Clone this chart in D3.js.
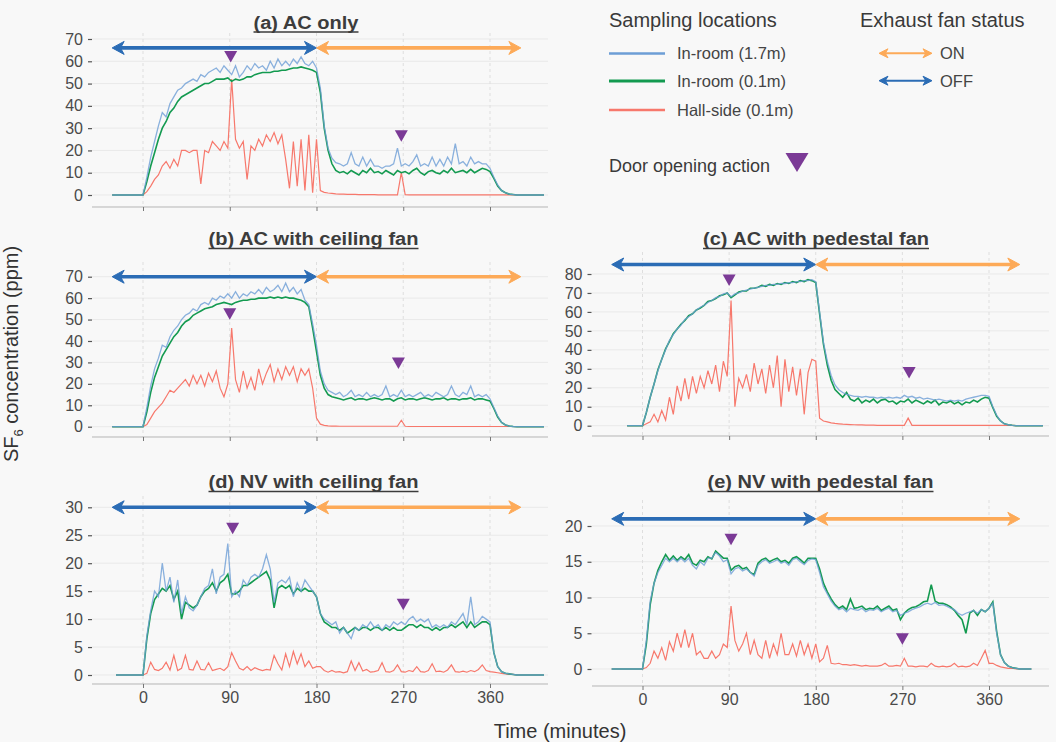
<!DOCTYPE html>
<html lang="en">
<head>
<meta charset="UTF-8">
<title>SF6 concentration</title>
<style>
  body { margin: 0; background: #f8f8f8; }
  svg { display: block; font-family: "Liberation Sans", Arial, sans-serif; }
</style>
</head>
<body>
<script src="https://cdn.jsdelivr.net/npm/d3@7"></script>
<script>
// samples every 4 minutes, first one at -32 min
var sampleStart = -32, sampleStep = 4;

// (a) AC only
var acOnly17 = [
  0,0,0,0,0,0,0,0,0,8,
  17,24,31,37,35,41,44,47,48,50,
  51,52,51,54,53,55,56,57,55,58,
  56,54,58,53,55,58,56,59,57,58,
  56,60,57,61,58,60,58,61,59,62,
  59,58,60,57,48,31,21,16.5,14.5,14,
  13,14,19,14,13,17,13,16,13,13,
  12,13,13,14,21,13,14,13,15,18,
  13,14,13,17,13,16,13,17,14,23,
  14,15,13,17,14,15,14,14,12,8,
  4.5,2,1,0.4,0.2,0,0,0,0,0,
  0,0,0];
var acOnly01 = [
  0,0,0,0,0,0,0,0,0,6,
  13,19,25,30,33,37,39,42,44,45,
  46,47,48,49,50,50,51,52,52,52,
  52.5,51,52,51.5,52,53,53,54,54.5,55,
  55,55,55.5,55.5,56,56,56.5,57,57,57.5,
  57,56.5,56,55,46,30,20,14,11,10,
  10.5,9.5,11,10,9,11,10,12,10,10.5,
  9.5,11,10,9,11,10,10.5,9.5,11,12,
  10,9,10.5,11,10,9.5,11,10,12,10,
  10.5,11,10,11.5,10,11,12,11.5,10.5,7.5,
  4,2,1,0.4,0.2,0,0,0,0,0,
  0,0,0];
var acOnlyHall = [
  0,0,0,0,0,0,0,0,0,1.5,
  4,7,9,13,15,12,16,13,20,20,
  19,20,20,5,20,19,24,22,20,24,
  21,52,25,21,24,7,22,20,25,22,
  27,24,28,23,27,16,3,24,4,25,
  2,27,1,25,2,1.2,0.9,0.7,0.5,0.4,
  0.4,0.3,0.3,0.3,0.2,0.2,0.2,0.2,0.2,0.1,
  0.1,0.1,0.1,0.1,0.1,10,0.2,0.1,0.1,0.1,
  0.1,0.1,0.1,0.1,0.1,0.1,0.1,0.1,0.1,0.1,
  0.1,0.1,0.1,0.1,0.1,0.1,0.1,0.1,0.1,0.1,
  0.1,0.1,0.1,0.1,0.1,0,0,0,0,0,
  0,0,0];
var doorsA = [{t: 91, v: 62}, {t: 268, v: 26.5}];

// (b) AC with ceiling fan
var acCeil17 = [
  0,0,0,0,0,0,0,0,0,9,
  19,27,32,38,37,42,45,47,50,52,
  53,55,54,57,58,57,60,59,61,60,
  62,60,63,60,62,61,63,62,64,62,
  65,63,64,66,63,67,63,65,62,64,
  59,57,48,38,26,20,17,16,15,16,
  14,15,17,14,15,14,16,14,15,14,
  15,19,14,15,14,17,14,15,14,15,
  16,14,15,14,16,15,14,15,19,15,
  14,16,15,19,14,15,14,15,13,9,
  5,2,0.8,0.3,0.1,0,0,0,0,0,
  0,0,0];
var acCeil01 = [
  0,0,0,0,0,0,0,0,0,7,
  16,23,28,33,36,39,42,44,47,49,
  50,52,53,54,55,55.5,56,57,57.5,58,
  57.5,57,58,58.5,59,59,59.5,59.5,60,60,
  60,60.5,60,60.5,60,60.5,60,60,59.5,59,
  58,56,46,35,24,18,15,14,13.5,13,
  12.5,13,13.5,12.5,13,13,12.5,13,13.5,13,
  12.5,13,13,12,13,13.5,12.5,13,13,12.5,
  13,13.5,13,12.5,13,13,13.5,12.5,13,13,
  12.5,13,13,13.5,12.5,13,13,12.5,12,8.5,
  4.5,2,0.8,0.3,0.1,0,0,0,0,0,
  0,0,0];
var acCeilHall = [
  0,0,0,0,0,0,0,0,0,1,
  4,7,9,11,14,17,16,18,20,22,
  19,24,20,24,19,25,21,26,18,14,
  20,46,22,16,26,18,23,17,27,20,
  25,29,21,27,22,28,24,28,21,27,
  24,27,18,4,1.2,0.6,0.4,0.3,0.3,0.2,
  0.2,0.2,0.2,0.2,0.2,0.2,0.2,0.2,0.2,0.2,
  0.2,0.2,0.2,0.2,0.2,3,0.2,0.1,0.1,0.1,
  0.1,0.1,0.1,0.1,0.1,0.1,0.1,0.1,0.1,0.1,
  0.1,0.1,0.1,0.1,0.1,0.1,0.1,0.1,0.1,0.1,
  0.1,0.1,0.1,0.1,0.1,0,0,0,0,0,
  0,0,0];
var doorsB = [{t: 90, v: 52.6}, {t: 265, v: 29.6}];

// (c) AC with pedestal fan
var acPed17 = [
  null,null,null,null,0,0,0,0,0,7,
  15,22,29,35,40,45,48,51,53,56,
  57.5,59,61,62.5,63.5,65,66,67.5,68,69.5,
  70,68,69.5,70,71,71.5,72,72.5,73,73.5,
  74,74,74.5,74.5,75,75,75.5,75.5,76,76,
  76.5,76.5,77,76,60,44,34,26.5,21.5,19,
  17.5,16.5,16,15.5,15.5,15,15.5,15,15,14.5,
  15,14.5,15,14.5,15,14.5,16,15,15.5,14.5,
  15,14,14.5,14,13.5,14,13.5,13,13.5,13,
  13.5,13,14,14.5,15,15.5,16,16,15.5,10,
  5.5,2.5,1,0.5,0.2,0,0,0,0,0,
  0,0,0];
var acPed01 = [
  null,null,null,null,0,0,0,0,0,7,
  15,22,29.5,35,40.5,44.5,48.5,51,53.5,55.5,
  58,59,61,62,63.5,65.5,66,67,68.5,69,
  70,67.5,69,70.5,71,71,72.5,72.5,73,74,
  73.5,74.5,74,75,74.5,75.5,75,76,75.5,76.5,
  76,77,76.5,75.5,59,43,32,24,19,17,
  15,17.5,14,13,14.5,12,13.5,12.5,14,12,
  13.5,14,12.5,13,11.5,13,12.5,14,12,13.5,
  12.5,11.5,13,12,13.5,11,12.5,12,13,11.5,
  12.5,11,12.5,12,13.5,12.5,14,15,14.5,9.5,
  5,2.5,1,0.5,0.2,0,0,0,0,0,
  0,0,0];
var acPedHall = [
  null,null,null,null,0,0,0,0,0,1,
  2,6,2,8,3,15,6,21,13,25,
  14,26,17,26,20,29,22,32,18,34,
  26,66,10,25,20,27,18,33,22,30,
  17,32,20,37,10,35,18,31,16,30,
  6,28,35,34,4,2.5,2,1.5,1.2,1,
  0.8,0.7,0.6,0.5,0.4,0.4,0.3,0.3,0.3,0.2,
  0.2,0.2,0.2,0.2,0.2,0.2,0.2,4,0.2,0.2,
  0.2,0.2,0.2,0.2,0.2,0.2,0.2,0.2,0.2,0.2,
  0.2,0.2,0.2,0.2,0.2,0.2,0.2,0.2,0.2,0.2,
  0.2,0.2,0.2,0.2,0.2,0,0,0,0,0,
  0,0,0];
var doorsC = [{t: 90, v: 76.7}, {t: 277, v: 27.9}];

// (d) NV with ceiling fan
var nvCeil17 = [
  null,0,0,0,0,0,0,0,0,7,
  11.5,15,14,20,15,17.5,13,17,11,14,
  12,11.5,12.5,14,15.5,16,19,14.5,17.5,18,
  23.5,14,15,14,17,16,17.5,18,17.5,19,
  21.5,19,13,16.5,17,16.5,17.5,14,16.5,15,
  17,16,15,14,11,10,9.5,9,9.5,7.5,
  8.5,7.5,6.5,8.5,8,9,8.5,9.5,8.5,9,
  8,9,8.5,9.5,9,9.5,9,10,10.5,9.5,
  10,9.5,10,8.5,9,8.5,9,8.5,9.5,9,
  10,11,9,14,9,9.5,10.5,10,9.5,4,
  1.5,0.6,0.3,0.2,0.1,0,0,0,0,0,
  0,0,0];
var nvCeil01 = [
  null,0,0,0,0,0,0,0,0,6.5,
  11,13.5,14.5,15.5,15,16,13.5,15,10,13,
  12.5,12,12.5,14,15,15.5,16.5,15,16.5,17,
  18,14.5,14.5,15,16,16,16.5,17,17.5,18,
  18.5,17,12,15.5,16,15.5,16,14.5,15.5,15,
  15.5,15,15,14,11,9.5,9,8.5,8.5,8,
  8.5,7.5,8,8.5,8,8.5,8.5,8,8.5,8.5,
  8,8.5,8,8.5,8,8,8.5,9,9,8.5,
  9,8.5,8.5,8,8.5,8,8.5,8.5,9,8.5,
  9,9.5,8.5,9.5,8.5,9,9.5,9.5,9,4,
  1.5,0.6,0.3,0.2,0.1,0,0,0,0,0,
  0,0,0];
var nvCeilHall = [
  null,0,0,0,0,0,0,0,0,0.3,
  2.3,1,0.8,1.2,2.3,0.9,3.5,0.8,1.2,3.5,
  1,0.9,2.5,1,0.9,2.2,0.8,1,1.2,0.8,
  1.5,4,2.5,1.2,0.9,1.5,0.8,1.3,1,0.8,
  1,0.9,3.5,2,0.9,3.8,1.5,4.2,2,3.8,
  1.5,2.5,1.2,1.5,1.5,0.8,0.5,0.8,0.5,0.6,
  0.4,0.6,2.5,0.8,2.2,0.7,1,0.5,0.6,0.8,
  2.2,0.6,0.5,0.8,1.8,0.6,0.5,0.8,0.6,1.5,
  0.6,0.5,0.8,2,0.6,0.7,0.5,0.9,1.8,0.6,
  0.5,0.7,0.5,0.8,0.6,1,1.8,0.8,0.6,0.5,
  0.4,0.3,0.2,0.1,0.1,0,0,0,0,0,
  0,0,0];
var doorsD = [{t: 93, v: 26.2}, {t: 270, v: 12.6}];

// (e) NV with pedestal fan
var nvPed17 = [
  0,0,0,0,0,0,0,0,0,4,
  9.5,12,13.5,14.5,15.5,15,15.5,15,15.5,15,
  15.5,14.5,14,15,14.5,15.5,15.5,16.3,15.8,15,
  15.3,13.3,14,14.2,13.7,14,13.5,13,14.5,15,
  15.3,14.8,15,15.3,14.8,15,14.5,15.3,15.5,15,
  14.6,15.2,15.4,15.3,13.5,11.5,10.5,9.5,8.8,8.3,
  8.5,8,8.5,8.3,8.2,8.5,8,8.3,8.2,8.5,
  8,8.3,8.5,8,8.2,7.5,7.8,8,8.3,8.5,
  8.7,9,9.2,9,9.3,8.9,9,8.8,8.5,8.3,
  7.8,7.5,7.8,8,8.2,7.8,8.3,8,8.5,9.2,
  5,2,0.9,0.4,0.2,0.1,0,0,0,0,
  null,null,null];
var nvPed01 = [
  0,0,0,0,0,0,0,0,0,3.5,
  9,12,13.8,15,16,15.2,15.8,15.2,15.7,15.3,
  16,14.8,14.5,15.2,15,15.7,15.4,16.5,16,15.5,
  15.5,13.8,14.3,14.5,14,14.2,13.5,13.2,14.8,15.3,
  15.5,15,15.3,15.5,15,15.2,14.8,15.5,15.7,15.3,
  14.8,15.5,15.5,15.5,14,12,10.8,9.8,9,8.5,
  8.8,8.3,9.8,8.5,8.6,8.8,8.3,8.5,8.4,8.8,
  8.2,8.5,8.8,8.2,8.4,6.9,7.8,8.3,8.6,8.7,
  9,9.4,9.5,11.8,9.5,9.2,9.2,9,8.7,8.2,
  7.5,6.9,5,7.8,8.2,7.5,8.3,8,8.5,9.4,
  5.2,2,0.9,0.4,0.2,0.1,0,0,0,0,
  null,null,null];
var nvPedHall = [
  0,0,0,0,0,0,0,0,0,0.2,
  0.8,2.5,1.5,3,1.2,3.8,2.5,5,3,5.5,
  3,5,2,2.5,1.5,1.5,2.5,1.5,2,3.5,
  3,8.8,4,2.5,3.5,5,2,4,2,1.5,
  4,1.5,3.5,2,5,2,2,3.5,1.8,4,
  2,3.5,1.5,3.5,1,1.5,3.3,0.8,0.7,0.8,
  0.6,0.6,0.5,0.6,0.5,0.4,0.5,0.4,0.4,0.4,
  0.5,0.8,0.4,0.4,0.5,0.4,1.5,0.4,0.4,0.3,
  0.4,0.4,0.3,0.8,0.4,0.3,0.4,0.3,0.4,0.8,
  0.3,0.4,0.3,0.4,0.8,0.5,1.5,2.6,0.8,0.8,
  0.5,0.3,0.2,0.1,0.1,0,0,0,0,0,
  null,null,null];
var doorsE = [{t: 92, v: 18.1}, {t: 270, v: 4.2}];

// exhaust fan periods (minutes)
var fanOff = [-32, 180];
var fanOn = [180, 392];
var timeTicks = [0, 90, 180, 270, 360];

var seriesNames = ["In-room (1.7m)", "In-room (0.1m)", "Hall-side (0.1m)"];
var colors = { high: "#6d9ed6", low: "#139a50", hall: "#f7786c", off: "#2b6cb5", on: "#fdaa58", door: "#7b3a96" };

var panels = [
  { title: "(a) AC only", titleW: 105, tx: 306, ty: 28.5, high: acOnly17, low: acOnly01, hall: acOnlyHall, doors: doorsA,
    yMax: 70, yStep: 10, fanAt: 66, col: "left", y0: 195, y1: 39, axisY: 207, gridTop: 33, xLabels: false },
  { title: "(b) AC with ceiling fan", titleW: 210, tx: 313.5, ty: 245, high: acCeil17, low: acCeil01, hall: acCeilHall, doors: doorsB,
    yMax: 70, yStep: 10, fanAt: 70, col: "left", y0: 426.7, y1: 276.7, axisY: 437, gridTop: 262, xLabels: false },
  { title: "(c) AC with pedestal fan", titleW: 226, tx: 816, ty: 245, high: acPed17, low: acPed01, hall: acPedHall, doors: doorsC,
    yMax: 80, yStep: 10, fanAt: 85, col: "right", y0: 425.7, y1: 274, axisY: 436, gridTop: 252, xLabels: false },
  { title: "(d) NV with ceiling fan", titleW: 210, tx: 313.5, ty: 488, high: nvCeil17, low: nvCeil01, hall: nvCeilHall, doors: doorsD,
    yMax: 30, yStep: 5, fanAt: 30, col: "left", y0: 675, y1: 507.3, axisY: 684, gridTop: 496, xLabels: true },
  { title: "(e) NV with pedestal fan", titleW: 226, tx: 820.5, ty: 488, high: nvPed17, low: nvPed01, hall: nvPedHall, doors: doorsE,
    yMax: 20, yStep: 5, fanAt: 21, col: "right", y0: 669, y1: 526, axisY: 686, gridTop: 500, xLabels: true }
];
var columns = {
  left:  { x0: 143, x360: 490, ext: [92, 548], axisX: 92 },
  right: { x0: 642.5, x360: 989, ext: [592, 1049], axisX: 591.5 }
};

var width = 1056, height = 742;
var svg = d3.select("body").append("svg")
    .attr("width", width)
    .attr("height", height);

// double headed arrow between x1 and x2
function arrow(g, x1, x2, y, color, w, len, half) {
    g.append("line")
        .attr("x1", x1 + len * 0.6).attr("x2", x2 - len * 0.6)
        .attr("y1", y).attr("y2", y)
        .attr("stroke", color).attr("stroke-width", w);
    g.append("path")
        .attr("d", "M" + x1 + "," + y + "L" + (x1 + len) + "," + (y - half) + "L" + (x1 + len * 0.7) + "," + y +
                   "L" + (x1 + len) + "," + (y + half) + "Z")
        .attr("fill", color).attr("stroke", color).attr("stroke-width", 1).attr("stroke-linejoin", "round");
    g.append("path")
        .attr("d", "M" + x2 + "," + y + "L" + (x2 - len) + "," + (y - half) + "L" + (x2 - len * 0.7) + "," + y +
                   "L" + (x2 - len) + "," + (y + half) + "Z")
        .attr("fill", color).attr("stroke", color).attr("stroke-width", 1).attr("stroke-linejoin", "round");
}

function triangle(g, cx, cy, w, h) {
    g.append("path")
        .attr("d", "M" + (cx - w / 2) + "," + (cy - h / 2) + "L" + (cx + w / 2) + "," + (cy - h / 2) + "L" + cx + "," + (cy + h / 2) + "Z")
        .attr("fill", colors.door);
}

panels.forEach(function (p) {
    var c = columns[p.col];
    var x = d3.scaleLinear().domain([0, 360]).range([c.x0, c.x360]);
    var y = d3.scaleLinear().domain([0, p.yMax]).range([p.y0, p.y1]);
    var yTicks = d3.range(0, p.yMax + 0.001, p.yStep);
    var g = svg.append("g");

    // grid
    g.append("g").selectAll("line").data(yTicks).enter().append("line")
        .attr("x1", c.ext[0]).attr("x2", c.ext[1])
        .attr("y1", function (d) { return y(d); }).attr("y2", function (d) { return y(d); })
        .attr("stroke", "#e9e9e9").attr("stroke-width", 1);
    g.append("g").selectAll("line").data(timeTicks).enter().append("line")
        .attr("x1", function (d) { return x(d); }).attr("x2", function (d) { return x(d); })
        .attr("y1", p.gridTop).attr("y2", p.axisY)
        .attr("stroke", "#dedede").attr("stroke-width", 1).attr("stroke-dasharray", "3,3");

    // y axis
    var ya = g.append("g")
        .attr("transform", "translate(" + c.axisX + ",0)")
        .call(d3.axisLeft(y).tickValues(yTicks).tickSize(4).tickPadding(5));
    ya.select(".domain").remove();
    ya.selectAll(".tick line").attr("stroke", "#555").attr("stroke-width", 1.2);
    ya.selectAll(".tick text").attr("fill", "#4a4a4a").style("font-size", "16px")
        .style("font-family", "'Liberation Sans', Arial, sans-serif");

    // x axis
    g.append("line")
        .attr("x1", c.ext[0]).attr("x2", c.ext[1])
        .attr("y1", p.axisY).attr("y2", p.axisY)
        .attr("stroke", "#b5b5b5").attr("stroke-width", 1);
    var xa = g.append("g")
        .attr("transform", "translate(0," + p.axisY + ")")
        .call(d3.axisBottom(x).tickValues(timeTicks).tickSize(4).tickPadding(4)
            .tickFormat(p.xLabels ? d3.format("d") : function () { return ""; }));
    xa.select(".domain").remove();
    xa.selectAll(".tick line").attr("stroke", "#777");
    xa.selectAll(".tick text").attr("fill", "#4a4a4a").style("font-size", "16px")
        .style("font-family", "'Liberation Sans', Arial, sans-serif");

    // concentration lines
    var line = d3.line()
        .defined(function (d) { return d != null; })
        .x(function (d, i) { return x(sampleStart + i * sampleStep); })
        .y(function (d) { return y(d); });
    g.append("path").datum(p.hall).attr("d", line)
        .attr("fill", "none").attr("stroke", colors.hall).attr("stroke-width", 1.2);
    g.append("path").datum(p.low).attr("d", line)
        .attr("fill", "none").attr("stroke", colors.low).attr("stroke-width", 1.6);
    g.append("path").datum(p.high).attr("d", line)
        .attr("fill", "none").attr("stroke", colors.high).attr("stroke-width", 1.3).attr("stroke-opacity", 0.8);

    // exhaust fan status
    arrow(g, x(fanOff[0]), x(fanOff[1]), y(p.fanAt), colors.off, 3.6, 12, 6.5);
    arrow(g, x(fanOn[0]), x(fanOn[1]), y(p.fanAt), colors.on, 3.6, 12, 6.5);

    // door openings
    p.doors.forEach(function (d) { triangle(g, x(d.t), y(d.v), 13, 11.5); });

    // title with underline
    var t = g.append("text")
        .attr("x", p.tx).attr("y", p.ty)
        .attr("text-anchor", "middle")
        .attr("font-weight", "bold").attr("font-size", 18)
        .attr("textLength", p.titleW).attr("lengthAdjust", "spacingAndGlyphs")
        .attr("fill", "#3c3c3c")
        .text(p.title);
    g.append("line")
        .attr("x1", p.tx - p.titleW / 2).attr("x2", p.tx + p.titleW / 2)
        .attr("y1", p.ty + 3.5).attr("y2", p.ty + 3.5)
        .attr("stroke", "#3c3c3c").attr("stroke-width", 1.5);
});

// axis titles
var yl = svg.append("text")
    .attr("transform", "translate(18,354) rotate(-90)")
    .attr("text-anchor", "middle")
    .attr("font-size", 20).attr("fill", "#333");
yl.append("tspan").text("SF");
yl.append("tspan").attr("font-size", 13).attr("dy", 5).text("6");
yl.append("tspan").attr("dy", -5).text(" concentration (ppm)");

svg.append("text")
    .attr("x", 560).attr("y", 738)
    .attr("text-anchor", "middle")
    .attr("font-size", 20).attr("fill", "#333")
    .text("Time (minutes)");

// legend
var lg = svg.append("g");
lg.append("text").attr("x", 609).attr("y", 26.5).attr("font-size", 20).attr("fill", "#3a3a3a").text("Sampling locations");
lg.append("text").attr("x", 860).attr("y", 26.5).attr("font-size", 20).attr("fill", "#3a3a3a").text("Exhaust fan status");

var legendRows = [53.5, 81, 110];
var legendColors = [colors.high, colors.low, colors.hall];
var legendWidths = [2.5, 3, 2.5];
seriesNames.forEach(function (name, i) {
    lg.append("line")
        .attr("x1", 609).attr("x2", 665)
        .attr("y1", legendRows[i]).attr("y2", legendRows[i])
        .attr("stroke", legendColors[i]).attr("stroke-width", legendWidths[i]);
    lg.append("text")
        .attr("x", 677).attr("y", legendRows[i] + 5.5)
        .attr("font-size", 16.5).attr("fill", "#444")
        .text(name);
});

arrow(lg, 879, 932, 53.3, colors.on, 2, 9, 4.5);
arrow(lg, 879, 932, 80.7, colors.off, 2, 9, 4.5);
lg.append("text").attr("x", 940).attr("y", 59.2).attr("font-size", 16.5).attr("fill", "#444").text("ON");
lg.append("text").attr("x", 940).attr("y", 86.5).attr("font-size", 16.5).attr("fill", "#444").text("OFF");

lg.append("text").attr("x", 609).attr("y", 172).attr("font-size", 18).attr("fill", "#3a3a3a").text("Door opening action");
triangle(lg, 797, 162.5, 23, 19);
</script>
</body>
</html>
